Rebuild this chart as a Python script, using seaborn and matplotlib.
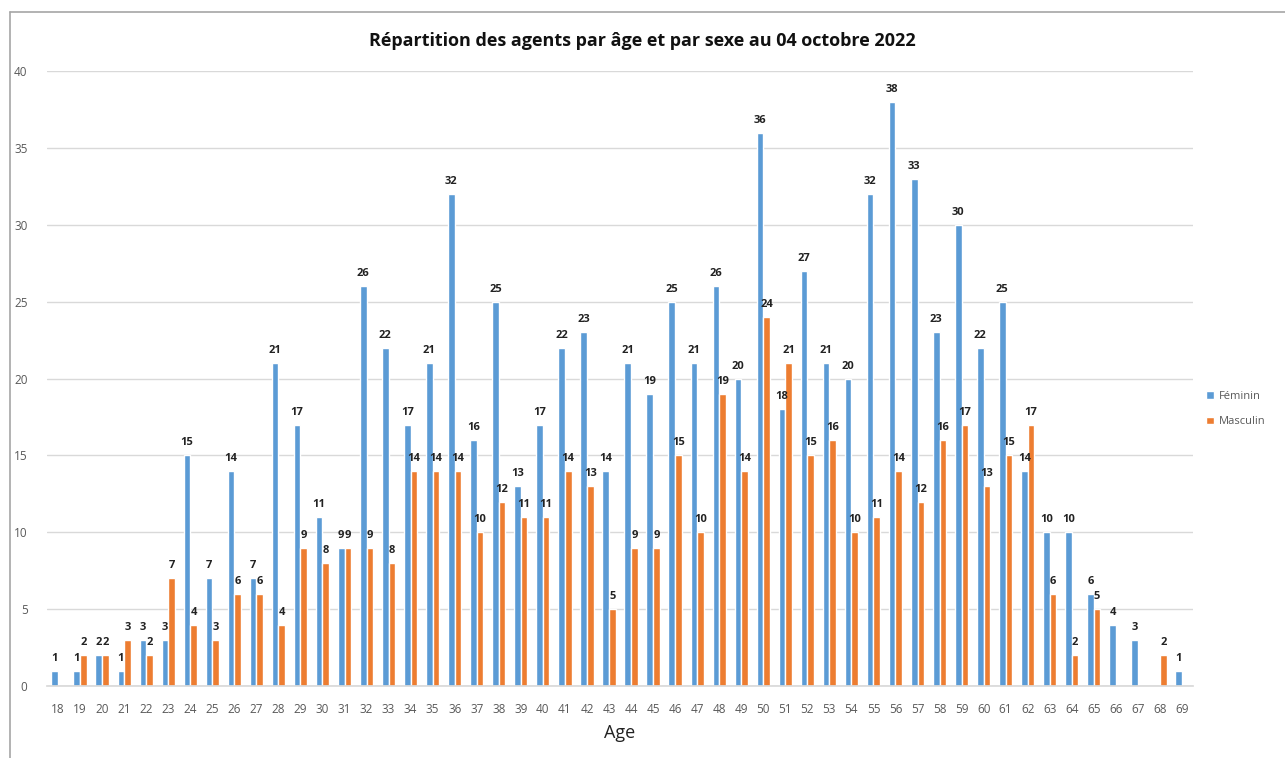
import numpy as np
import pandas as pd
import matplotlib
matplotlib.use("Agg")
import matplotlib.pyplot as plt
from matplotlib.lines import Line2D
import seaborn as sns

ages = list(range(18, 70))
feminin = [1, 1, 2, 1, 3, 3, 15, 7, 14, 7, 21, 17, 11, 9, 26, 22, 17, 21, 32, 16,
           25, 13, 17, 22, 23, 14, 21, 19, 25, 21, 26, 20, 36, 18, 27, 21, 20, 32,
           38, 33, 23, 30, 22, 25, 14, 10, 10, 6, 4, 3, None, 1]
masculin = [None, 2, 2, 3, 2, 7, 4, 3, 6, 6, 4, 9, 8, 9, 9, 8, 14, 14, 14, 10,
            12, 11, 11, 14, 13, 5, 9, 9, 15, 10, 19, 14, 24, 21, 15, 16, 10, 11,
            14, 12, 16, 17, 13, 15, 17, 6, 2, 5, None, None, 2, None]
series_names = ["Féminin", "Masculin"]
colors = ["#5B9BD5", "#ED7D31"]

rows = []
for a, f, m in zip(ages, feminin, masculin):
    rows.append({"Age": str(a), "Sexe": series_names[0], "N": f})
    rows.append({"Age": str(a), "Sexe": series_names[1], "N": m})
df = pd.DataFrame(rows).dropna()

sns.set_theme(style="white")
plt.rcParams["font.family"] = ["Open Sans", "DejaVu Sans"]

fig = plt.figure(figsize=(12.85, 7.58), dpi=100)
ax = fig.add_axes([47/1285, 1-686/758, (1193-47)/1285, (686-71)/758])

sns.barplot(data=df, x="Age", y="N", hue="Sexe", order=[str(a) for a in ages],
            hue_order=series_names, palette=colors, width=0.6, gap=0,
            saturation=1, ax=ax, legend=True, errorbar=None)

for cont in ax.containers:
    ax.bar_label(cont, fmt="%d", padding=5, fontsize=8, fontweight="bold",
                 color="#222222")

ax.set_ylim(0, 40)
ax.set_yticks(range(0, 41, 5))
ax.set_xlim(-0.5, len(ages) - 0.5)
ax.yaxis.grid(True, color="#d9d9d9", linewidth=1)
ax.set_axisbelow(True)
for s in ["top", "right", "left"]:
    ax.spines[s].set_visible(False)
ax.spines["bottom"].set_color("#d9d9d9")
ax.tick_params(axis="both", colors="#595959", labelsize=8.5, length=0)
ax.tick_params(axis="y", pad=14)
ax.tick_params(axis="x", pad=12)
ax.set_ylabel("")
ax.set_xlabel("Age", fontsize=13, color="#222222", labelpad=6)

leg = ax.legend(loc="center left", bbox_to_anchor=(1.003, 0.45), frameon=False,
                fontsize=8, handlelength=0.7, handleheight=0.7,
                labelcolor="#595959", handletextpad=0.4, labelspacing=1.3)

fig.text(0.5, 1-41/758, "Répartition des agents par âge et par sexe au 04 octobre 2022",
         ha="center", va="center", fontsize=13, fontweight="bold", color="#111111")

fig.add_artist(Line2D([10/1285, 1], [1-12/758, 1-12/758], color="#a6a6a6",
                      linewidth=1.2, transform=fig.transFigure))
fig.add_artist(Line2D([10/1285, 10/1285], [0, 1-12/758], color="#a6a6a6",
                      linewidth=1.2, transform=fig.transFigure))

fig.savefig("out.png", dpi=100)
